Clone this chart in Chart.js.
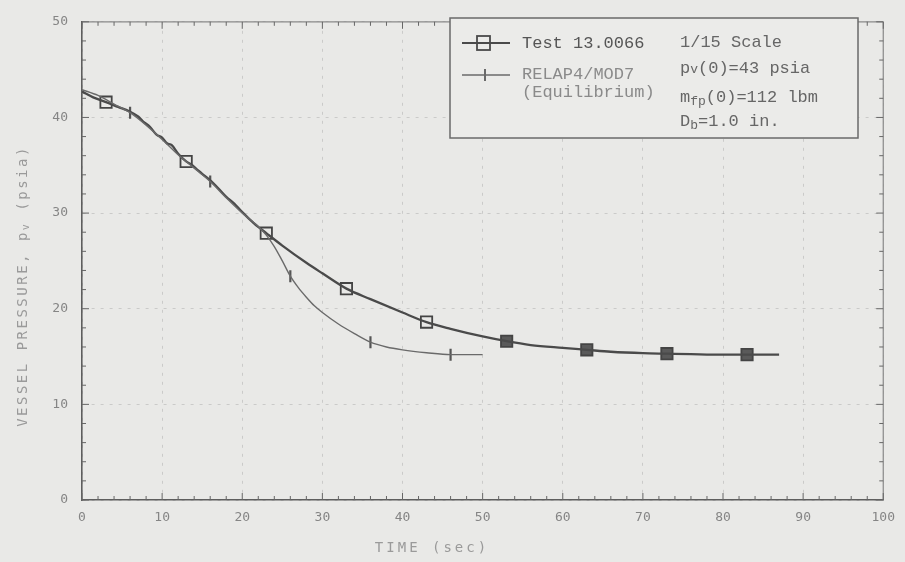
<!DOCTYPE html>
<html>
<head>
<meta charset="utf-8">
<script src="https://cdn.jsdelivr.net/npm/chart.js@4.4.0/dist/chart.umd.min.js"></script>
<style>
  html, body { margin: 0; padding: 0; background: #e9e9e7; }
  canvas { display: block; }
</style>
</head>
<body>
<canvas id="chart" width="905" height="562"></canvas>
<script>
// Vessel pressure blowdown, Test 13.0066 vs RELAP4/MOD7 (equilibrium)
const testTime = [0, 1.4, 3, 4.5, 6, 7, 7.6, 8.5, 9.3, 10, 10.6, 11.2, 12, 13, 13.6, 14.3, 15, 15.9, 17, 18, 19, 20, 21.5, 23, 25, 28, 30, 33, 36, 40, 43, 46, 50, 53, 56, 60, 63, 66, 70, 73, 76, 80, 83, 87];
const testPressure = [42.7, 42.1, 41.6, 41.1, 40.6, 40.1, 39.6, 39.0, 38.2, 37.9, 37.3, 37.1, 36.2, 35.4, 35.1, 34.6, 34.1, 33.5, 32.6, 31.7, 31.0, 30.1, 28.9, 27.9, 26.6, 24.8, 23.7, 22.1, 21.0, 19.6, 18.6, 17.9, 17.1, 16.6, 16.2, 15.9, 15.7, 15.5, 15.35, 15.3, 15.25, 15.2, 15.2, 15.2];
const testMarkTime = [3, 13, 23, 33, 43, 53, 63, 73, 83];
const testMarkPressure = [41.6, 35.4, 27.9, 22.1, 18.6, 16.6, 15.7, 15.3, 15.2];

const relapTime = [0, 2, 4, 6, 8, 10, 12, 14, 16, 18, 20, 22, 23, 24, 25, 26, 27, 28, 29, 30, 32, 34, 36, 38, 40, 43, 46, 50];
const relapPressure = [42.9, 42.3, 41.4, 40.5, 39.2, 37.7, 36.1, 34.7, 33.3, 31.6, 30.0, 28.6, 27.7, 26.5, 25.0, 23.4, 22.2, 21.2, 20.3, 19.6, 18.4, 17.4, 16.5, 16.0, 15.7, 15.4, 15.2, 15.2];
const relapMarkTime = [6, 16, 26, 36, 46];
const relapMarkPressure = [40.5, 33.3, 23.4, 16.5, 15.2];

const timeTicks = [0, 10, 20, 30, 40, 50, 60, 70, 80, 90, 100];
const pressureTicks = [0, 10, 20, 30, 40, 50];

const legendTest = 'Test 13.0066';
const legendRelap = ['RELAP4/MOD7', '(Equilibrium)'];
const xTitle = 'TIME (sec)';
const yTitle = ['VESSEL PRESSURE, p', 'v', ' (psia)'];

const toXY = (xs, ys) => xs.map((x, i) => ({ x: x, y: ys[i] }));

const INK = '#4a4a4a';
const TEXT = '#858585';

// Frame on top/right, inward tick marks on every side, and the axis titles
const framePlugin = {
  id: 'frame',
  beforeDatasetsDraw(chart) {
    const { ctx, chartArea: a, scales: { x, y } } = chart;
    ctx.save();
    ctx.strokeStyle = '#8a8a8a';
    ctx.lineWidth = 1.2;
    ctx.beginPath();
    ctx.moveTo(a.left, a.top); ctx.lineTo(a.right, a.top);
    ctx.moveTo(a.right, a.top); ctx.lineTo(a.right, a.bottom);
    ctx.stroke();
    ctx.strokeStyle = '#666';
    ctx.lineWidth = 1;
    ctx.beginPath();
    for (let v = 0; v <= 100; v += 2) {
      const px = x.getPixelForValue(v);
      const len = v % 10 === 0 ? 7 : 4;
      ctx.moveTo(px, a.bottom); ctx.lineTo(px, a.bottom - len);
      ctx.moveTo(px, a.top); ctx.lineTo(px, a.top + len);
    }
    for (let v = 0; v <= 50; v += 2) {
      const py = y.getPixelForValue(v);
      const len = v % 10 === 0 ? 7 : 4;
      ctx.moveTo(a.left, py); ctx.lineTo(a.left + len, py);
      ctx.moveTo(a.right, py); ctx.lineTo(a.right - len, py);
    }
    ctx.stroke();

    ctx.fillStyle = '#9a9a9a';
    ctx.textBaseline = 'middle';
    ctx.textAlign = 'left';
    ctx.letterSpacing = '3px';

    // x-axis title
    ctx.font = '14px "DejaVu Sans Mono"';
    const xw = ctx.measureText(xTitle).width;
    ctx.fillText(xTitle, 432 - xw / 2, 548);

    // rotated y-axis title with subscript
    ctx.letterSpacing = '2.5px';
    ctx.translate(23, 286);
    ctx.rotate(-Math.PI / 2);
    const parts = [[yTitle[0], 0, 14], [yTitle[1], 3, 10], [yTitle[2], 0, 14]];
    let total = 0;
    parts.forEach(p => { ctx.font = p[2] + 'px "DejaVu Sans Mono"'; total += ctx.measureText(p[0]).width; });
    let cx = -total / 2;
    parts.forEach(p => {
      ctx.font = p[2] + 'px "DejaVu Sans Mono"';
      ctx.fillText(p[0], cx, p[1]);
      cx += ctx.measureText(p[0]).width;
    });
    ctx.restore();
  }
};

// Boxed key with the run parameters
const keyPlugin = {
  id: 'keyBox',
  afterDraw(chart) {
    const { ctx } = chart;
    const bx = 450, by = 18, bw = 408, bh = 120;
    ctx.save();
    ctx.fillStyle = '#ebebe9';
    ctx.fillRect(bx, by, bw, bh);
    ctx.strokeStyle = '#6a6a6a';
    ctx.lineWidth = 1.5;
    ctx.strokeRect(bx, by, bw, bh);

    // samples
    ctx.strokeStyle = INK;
    ctx.lineWidth = 2;
    ctx.beginPath(); ctx.moveTo(462, 43); ctx.lineTo(510, 43); ctx.stroke();
    ctx.lineWidth = 1.8;
    ctx.strokeRect(477, 36, 13, 14);
    ctx.strokeStyle = '#6a6a6a';
    ctx.lineWidth = 1.4;
    ctx.beginPath(); ctx.moveTo(462, 75); ctx.lineTo(510, 75); ctx.stroke();
    ctx.lineWidth = 2;
    ctx.beginPath(); ctx.moveTo(485, 69); ctx.lineTo(485, 81); ctx.stroke();

    const f = (s) => s + 'px "Liberation Mono"';
    ctx.textBaseline = 'middle';
    ctx.textAlign = 'left';
    ctx.fillStyle = '#555';
    ctx.font = f(17);
    ctx.fillText(legendTest, 522, 43);
    ctx.fillStyle = '#8a8a8a';
    ctx.fillText(legendRelap[0], 522, 74);
    ctx.fillText(legendRelap[1], 522, 92);

    const rx = 680;
    const seq = (items, y) => {
      let cx = rx;
      items.forEach(([t, dy, s]) => {
        ctx.font = f(s);
        ctx.fillText(t, cx, y + dy);
        cx += ctx.measureText(t).width;
      });
    };
    ctx.fillStyle = '#666';
    seq([['1/15 Scale', 0, 17]], 42);
    seq([['p', 0, 17], ['v', 2, 13], ['(0)=43 psia', 0, 17]], 68);
    seq([['m', 0, 17], ['fp', 5, 13], ['(0)=112 lbm', 0, 17]], 97);
    seq([['D', 0, 17], ['b', 5, 13], ['=1.0 in.', 0, 17]], 121);
    ctx.restore();
  }
};

new Chart(document.getElementById('chart'), {
  type: 'scatter',
  data: {
    datasets: [
      {
        label: 'RELAP4/MOD7 (Equilibrium)',
        data: toXY(relapTime, relapPressure),
        showLine: true,
        borderColor: '#6a6a6a',
        borderWidth: 1.4,
        pointRadius: 0,
        cubicInterpolationMode: 'monotone'
      },
      {
        label: 'Test 13.0066',
        data: toXY(testTime, testPressure),
        showLine: true,
        borderColor: INK,
        borderWidth: 2.3,
        pointRadius: 0,
        cubicInterpolationMode: 'monotone'
      },
      {
        label: 'RELAP4/MOD7 markers',
        data: toXY(relapMarkTime, relapMarkPressure),
        showLine: false,
        pointStyle: 'line',
        rotation: 90,
        pointRadius: 6,
        borderColor: '#555',
        borderWidth: 2.2
      },
      {
        label: 'Test 13.0066 markers',
        data: toXY(testMarkTime, testMarkPressure),
        showLine: false,
        pointStyle: 'rect',
        pointRadius: 8,
        borderColor: '#444',
        borderWidth: 1.8,
        backgroundColor: testMarkTime.map(t => t >= 50 ? '#5a5a5a' : 'rgba(233,233,231,0.9)')
      }
    ]
  },
  options: {
    responsive: false,
    animation: false,
    devicePixelRatio: 1,
    layout: { padding: { top: 16, right: 20, left: 0, bottom: 0 } },
    plugins: { legend: { display: false }, tooltip: { enabled: false } },
    scales: {
      x: {
        type: 'linear',
        min: 0,
        max: 100,
        afterFit(s) { s.height = 62; },
        afterBuildTicks(s) { s.ticks = timeTicks.map(v => ({ value: v })); },
        ticks: {
          color: TEXT,
          padding: 10,
          maxRotation: 0,
          autoSkip: false,
          font: { family: '"DejaVu Sans Mono"', size: 13 },
          callback: v => String(v)
        },
        grid: { color: 'rgba(0,0,0,0.13)', lineWidth: 1, drawTicks: false },
        border: { display: true, color: '#5e5e5e', width: 1.6, dash: [3, 6] }
      },
      y: {
        type: 'linear',
        min: 0,
        max: 50,
        afterFit(s) { s.width = 82; },
        afterBuildTicks(s) { s.ticks = pressureTicks.map(v => ({ value: v })); },
        ticks: {
          color: TEXT,
          padding: 14,
          autoSkip: false,
          font: { family: '"DejaVu Sans Mono"', size: 13 },
          callback: v => String(v)
        },
        grid: { color: 'rgba(0,0,0,0.13)', lineWidth: 1, drawTicks: false },
        border: { display: true, color: '#5e5e5e', width: 1.6, dash: [3, 6] }
      }
    }
  },
  plugins: [framePlugin, keyPlugin]
});
</script>
</body>
</html>
